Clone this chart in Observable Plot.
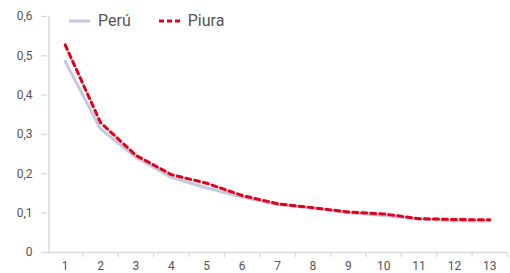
<!DOCTYPE html>
<html><head><meta charset="utf-8">
<script src="https://cdn.jsdelivr.net/npm/d3@7"></script>
<script src="https://cdn.jsdelivr.net/npm/@observablehq/plot@0.6"></script>
<style>
body{margin:0;background:#fff;font-family:Roboto,"DejaVu Sans",sans-serif;}
#wrap{position:relative;width:510px;height:273px;}
#legend{position:absolute;left:69px;top:11px;font-size:16px;color:#555;display:flex;align-items:center;}
#legend span.item{display:flex;align-items:center;margin-right:28px;}
#legend svg{margin-right:8px;}
</style></head>
<body><div id="wrap"><div id="legend"></div></div>
<script>
const periods = [1,2,3,4,5,6,7,8,9,10,11,12,13];
const peru  = [0.486,0.314,0.242,0.191,0.164,0.141,0.122,0.113,0.101,0.094,0.085,0.081,0.080];
const piura = [0.528,0.330,0.247,0.198,0.176,0.145,0.124,0.114,0.103,0.098,0.086,0.084,0.083];
const yTicks = [0,0.1,0.2,0.3,0.4,0.5,0.6];
const seriesNames = ["Perú","Piura"];
const colors = {"Perú":"#c6c8e1","Piura":"#e2001a"};

const bounds = periods.map(p=>p-0.5).concat([periods[periods.length-1]+0.5]);
const fmt = d => d===0 ? "0" : d.toFixed(1).replace(".",",");
const rows = s => periods.map((p,i)=>({x:p, y:(s==="Perú"?peru:piura)[i]}));

const chart = Plot.plot({
  width:510, height:273,
  marginTop:16, marginBottom:21, marginLeft:47, marginRight:3,
  style:{fontFamily:"Roboto, 'DejaVu Sans', sans-serif", fontSize:"12px", color:"#555"},
  x:{type:"linear", domain:[0.5,13.5]},
  y:{type:"linear", domain:[0,0.6]},
  marks:[
    Plot.axisY({ticks:yTicks, tickFormat:fmt, tickSize:6, tickPadding:9, stroke:"#d9d9d9", strokeWidth:1.3, fill:"#555", label:null, fontSize:12}),
    Plot.axisX({ticks:bounds.slice(1), tickFormat:()=>"", tickSize:5, stroke:"#d9d9d9", strokeWidth:1.3, label:null}),
    Plot.axisX({ticks:periods, tickFormat:d=>String(d), tickSize:0, tickPadding:9, label:null, fill:"#555", fontSize:12}),
    Plot.ruleX([0.5],{stroke:"#d9d9d9", strokeWidth:1.5, dx:1.5}),
    Plot.ruleY([0],{stroke:"#d9d9d9", strokeWidth:1.5}),
    Plot.line(rows("Perú"),{x:"x",y:"y",stroke:colors["Perú"],strokeWidth:3}),
    Plot.line(rows("Piura"),{x:"x",y:"y",stroke:colors["Piura"],strokeWidth:3,strokeDasharray:"5,4"})
  ]
});
document.getElementById("wrap").prepend(chart);

const leg = document.getElementById("legend");
seriesNames.forEach(n=>{
  const it = document.createElement("span"); it.className="item";
  const dash = n==="Piura" ? 'stroke-dasharray="5,3"' : '';
  it.innerHTML = `<svg width="21" height="6"><line x1="0" y1="3" x2="21" y2="3" stroke="${colors[n]}" stroke-width="3" ${dash}/></svg><span>${n}</span>`;
  leg.appendChild(it);
});
</script></body></html>
